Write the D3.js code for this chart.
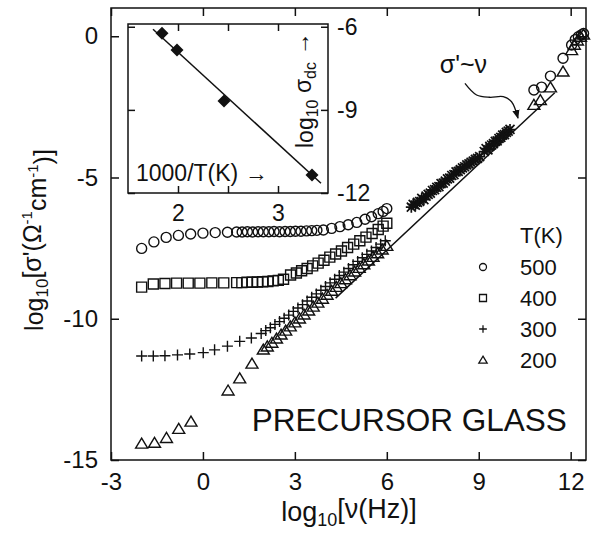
<!DOCTYPE html>
<html lang="en">
<head>
<meta charset="utf-8">
<title>Precursor glass - ac conductivity</title>
<script src="https://d3js.org/d3.v7.min.js"></script>
<style>
  body { margin: 0; background: #fff; }
  svg { display: block; font-family: "Liberation Sans", Arial, sans-serif; }
  .axis path, .axis line { stroke: #111; stroke-width: 1.5; }
  .axis text { font-family: "Liberation Sans", Arial, sans-serif; font-size: 24px; fill: #111; }
  .inset .axis text { font-size: 23px; }
  .mark { fill: none; stroke: #111; stroke-width: 1.4; }
  .hf { stroke-width: 1.7; }
  .lbl { fill: #111; }
</style>
</head>
<body>
<svg id="chart" width="598" height="546"></svg>
<script>
// log10(nu / Hz) and log10(sigma'), one pair per temperature
var f500 = [-2.0,-1.6,-1.2,-0.8,-0.4,0.0,0.4,0.8, 1.10,1.28,1.45,1.62,1.80,1.97,2.15,2.32,2.50,2.68,2.85,3.02,3.20,3.38,3.55,3.72, 3.93,4.20,4.47,4.74,5.02,5.29,5.50,5.72,5.88,6.0, 10.8,11.05,11.34,11.75,12.03,12.15,12.25,12.35,12.42];
var s500 = [-7.51,-7.28,-7.12,-7.05,-7.0,-6.97,-6.95,-6.94, -6.93,-6.93,-6.92,-6.93,-6.92,-6.92,-6.92,-6.91,-6.92,-6.91,-6.91,-6.90,-6.90,-6.89,-6.88,-6.87, -6.86,-6.80,-6.74,-6.67,-6.59,-6.48,-6.39,-6.28,-6.20,-6.10, -1.90,-1.80,-1.41,-0.78,-0.31,-0.12,-0.02,0.05,0.10];

var f400 = [-2.0,-1.62,-1.24,-0.86,-0.48,-0.1,0.29,0.68, 1.10,1.27,1.44,1.61,1.78,1.95,2.12,2.29,2.46,2.63, 2.86,3.05,3.22,3.40,3.58,3.76,3.95,4.14,4.33,4.52,4.72,4.92,5.12,5.32,5.52,5.72,5.88,6.0];
var s400 = [-8.88,-8.77,-8.75,-8.74,-8.74,-8.74,-8.73,-8.73, -8.72,-8.72,-8.71,-8.71,-8.70,-8.69,-8.68,-8.66,-8.64,-8.60, -8.45,-8.38,-8.30,-8.22,-8.13,-8.03,-7.93,-7.82,-7.71,-7.60,-7.48,-7.36,-7.24,-7.11,-6.98,-6.84,-6.72,-6.62];

var f300 = [-2.0,-1.62,-1.24,-0.83,-0.43,0.01,0.38,0.8,1.2,1.58, 1.9,2.05,2.2,2.35,2.5,2.65,2.8,2.95,3.1,3.25,3.4,3.55,3.7,3.85,4.0,4.15,4.3,4.45,4.6,4.75,4.9,5.05,5.2,5.35,5.5,5.65,5.8,5.95];
var s300 = [-11.32,-11.32,-11.31,-11.28,-11.25,-11.2,-11.1,-10.97,-10.8,-10.68, -10.52,-10.42,-10.32,-10.2,-10.1,-9.98,-9.87,-9.74,-9.62,-9.5,-9.37,-9.24,-9.12,-8.99,-8.86,-8.73,-8.6,-8.47,-8.35,-8.22,-8.09,-7.97,-7.84,-7.72,-7.6,-7.48,-7.36,-7.24];

// high frequency band (many overlapping crosses)
var fHF = [6.80,6.86,6.93,7.00,7.07,7.14,7.21,7.28,7.35,7.42,7.49,7.56,7.63,7.70,7.77,7.84,7.91,7.98,8.05,8.12,8.19,8.26,8.33,8.40,8.47,8.54,8.61,8.68,8.75,8.82,8.89,8.96,9.03, 9.18,9.24,9.30,9.36,9.42,9.48,9.54,9.60,9.66,9.72,9.78,9.84,9.90,9.96,10.02];
var sHF = [-6.05,-5.95,-5.98,-5.88,-5.85,-5.74,-5.78,-5.66,-5.60,-5.55,-5.46,-5.43,-5.35,-5.32,-5.22,-5.20,-5.13,-5.05,-5.02,-4.93,-4.90,-4.80,-4.78,-4.72,-4.66,-4.62,-4.55,-4.52,-4.46,-4.42,-4.36,-4.32,-4.26, -4.08,-3.98,-4.02,-3.90,-3.85,-3.80,-3.72,-3.70,-3.62,-3.58,-3.50,-3.48,-3.40,-3.36,-3.30];

var f200 = [-2.0,-1.58,-1.19,-0.79,-0.39,0.82,1.2,1.6,1.97, 2.1,2.25,2.4,2.55,2.7,2.85,3.0,3.15,3.3,3.45,3.6,3.75,3.9,4.05,4.2,4.35,4.5,4.65,4.8,4.95,5.1,5.25,5.4,5.55,5.7,5.85,6.0, 10.8,11.01,11.34,11.75,12.03,12.12,12.22,12.32,12.42];
var s200 = [-14.42,-14.39,-14.22,-13.9,-13.64,-12.54,-12.11,-11.59,-11.09, -10.98,-10.85,-10.7,-10.56,-10.42,-10.27,-10.13,-9.99,-9.85,-9.71,-9.57,-9.43,-9.29,-9.15,-9.01,-8.87,-8.74,-8.6,-8.46,-8.33,-8.2,-8.07,-7.94,-7.81,-7.68,-7.55,-7.42, -2.43,-2.26,-1.81,-1.25,-0.49,-0.3,-0.15,-0.02,0.06];

// sigma' ~ nu guide line (end points)
var lineF = [4.33, 11.48];
var lineS = [-9.27, -2.0];

// curved pointer to the guide line
var arrF = [8.55, 8.93, 9.36, 9.8, 10.07, 10.28];
var arrS = [-1.67, -2.08, -2.16, -2.14, -2.32, -2.9];

// inset: log10 sigma_dc vs 1000/T
var invT = [1.84, 1.99, 2.46, 3.34];
var logDC = [-6.23, -6.84, -8.68, -11.35];
var fitT = [1.75, 3.43];
var fitDC = [-6.09, -11.65];

var xTicks = [-3, 0, 3, 6, 9, 12];
var yTicks = [0, -5, -10, -15];
var ixTicks = [2, 2.5, 3];
var ixLabels = ["2", "", "3"];
var iyTicks = [-6, -9, -12];

var temps = ["500", "400", "300", "200"];

var svg = d3.select("#chart");

var x = d3.scaleLinear().domain([-3, 12.5]).range([111, 586]);
var y = d3.scaleLinear().domain([-15, 1]).range([460, 8]);

function zip(a, b) { return a.map(function(d, i) { return [d, b[i]]; }); }
function plain(d) { return String(d); }   // hyphen minus, like the original

// symbol paths
var sym = {
  circle: "M5,0A5,5 0 1,1 -5,0A5,5 0 1,1 5,0Z",
  square: "M-5,-5H5V5H-5Z",
  plus: "M-5.5,0H5.5M0,-5.5V5.5",
  cross: "M-4.5,-4.5L4.5,4.5M-4.5,4.5L4.5,-4.5",
  tri: "M0,-5.5L6,4.5L-6,4.5Z"
};

// frame
svg.append("rect")
  .attr("x", 111).attr("y", 8).attr("width", 475).attr("height", 452)
  .attr("fill", "none").attr("stroke", "#111").attr("stroke-width", 1.5);

svg.append("g").attr("class", "axis")
  .attr("transform", "translate(0,460)")
  .call(d3.axisBottom(x).tickValues(xTicks).tickSizeInner(-8).tickSizeOuter(0).tickPadding(13).tickFormat(plain))
  .call(function(g) { g.select(".domain").remove(); });
svg.append("g").attr("class", "axis")
  .attr("transform", "translate(0,8)")
  .call(d3.axisTop(x).tickValues(xTicks).tickSizeInner(-8).tickSizeOuter(0).tickFormat(""))
  .call(function(g) { g.select(".domain").remove(); });
svg.append("g").attr("class", "axis")
  .attr("transform", "translate(111,0)")
  .call(d3.axisLeft(y).tickValues(yTicks).tickSizeInner(-8).tickSizeOuter(0).tickPadding(13).tickFormat(plain))
  .call(function(g) { g.select(".domain").remove(); });
svg.append("g").attr("class", "axis")
  .attr("transform", "translate(586,0)")
  .call(d3.axisRight(y).tickValues(yTicks).tickSizeInner(-8).tickSizeOuter(0).tickFormat(""))
  .call(function(g) { g.select(".domain").remove(); });

// axis titles
var xt = svg.append("text").attr("class", "lbl")
  .attr("x", 349).attr("y", 521).attr("text-anchor", "middle").style("font-size", "27px");
xt.append("tspan").text("log");
xt.append("tspan").attr("dy", "0.3em").style("font-size", "18px").text("10");
xt.append("tspan").attr("dy", "-0.3em").text("[\u03bd(Hz)]");

var yt = svg.append("text").attr("class", "lbl")
  .attr("transform", "translate(43,240) rotate(-90)")
  .attr("text-anchor", "middle").style("font-size", "25px");
yt.append("tspan").text("log");
yt.append("tspan").attr("dy", "0.3em").style("font-size", "17px").text("10");
yt.append("tspan").attr("dy", "-0.3em").text("[\u03c3'(\u03a9");
yt.append("tspan").attr("dy", "-0.55em").style("font-size", "15px").text("-1");
yt.append("tspan").attr("dy", "0.55em").text("cm");
yt.append("tspan").attr("dy", "-0.55em").style("font-size", "15px").text("-1");
yt.append("tspan").attr("dy", "0.55em").text(")]");

// guide line sigma' ~ nu
svg.append("path")
  .attr("d", d3.line().x(function(d) { return x(d[0]); }).y(function(d) { return y(d[1]); })(zip(lineF, lineS)))
  .attr("stroke", "#111").attr("stroke-width", 1.5).attr("fill", "none");

// series
function plot(fs, ss, shape, cls) {
  svg.append("g").selectAll("path")
    .data(zip(fs, ss))
    .enter().append("path")
    .attr("class", "mark " + cls)
    .attr("d", sym[shape])
    .attr("transform", function(d) { return "translate(" + x(d[0]) + "," + y(d[1]) + ")"; });
}
plot(f500, s500, "circle", "t500");
plot(f400, s400, "square", "t400");
plot(f200, s200, "tri", "t200");
plot(f300, s300, "plus", "t300");
plot(fHF, sHF, "plus", "hf");
plot(fHF, sHF, "cross", "hf");

// annotation
svg.append("defs").append("marker")
  .attr("id", "head").attr("viewBox", "0 0 10 10").attr("refX", 9).attr("refY", 5)
  .attr("markerWidth", 7).attr("markerHeight", 7).attr("orient", "auto")
  .append("path").attr("d", "M0,1L10,5L0,9Z").attr("fill", "#111");
svg.append("path")
  .attr("d", d3.line().curve(d3.curveCatmullRom)
    .x(function(d) { return x(d[0]); }).y(function(d) { return y(d[1]); })(zip(arrF, arrS)))
  .attr("fill", "none").attr("stroke", "#111").attr("stroke-width", 1.3)
  .attr("marker-end", "url(#head)");
svg.append("text").attr("class", "lbl")
  .attr("x", x(7.73)).attr("y", y(-1.3)).style("font-size", "25px")
  .text("\u03c3'~\u03bd");

svg.append("text").attr("class", "lbl")
  .attr("x", x(1.59)).attr("y", y(-13.97)).style("font-size", "31.5px")
  .text("PRECURSOR GLASS");

// legend
var leg = svg.append("g").attr("transform", "translate(483,267)");
leg.append("text").attr("class", "lbl").attr("x", 37).attr("y", -24).style("font-size", "22px").text("T(K)");
var shapes = ["circle", "square", "plus", "tri"];
temps.forEach(function(t, i) {
  var row = leg.append("g").attr("transform", "translate(0," + (i * 31) + ")");
  row.append("path").attr("class", "mark").attr("d", sym[shapes[i]])
    .attr("transform", "scale(0.7)").style("stroke-width", 1.8);
  row.append("text").attr("class", "lbl").attr("x", 37).attr("y", 8).style("font-size", "22px").text(t);
});

// inset
var ix = d3.scaleLinear().domain([1.5, 3.5]).range([128, 328]);
var iy = d3.scaleLinear().domain([-12, -5.9]).range([193, 24]);
var inset = svg.append("g").attr("class", "inset");
inset.append("rect")
  .attr("x", 128).attr("y", 24).attr("width", 200).attr("height", 169)
  .attr("fill", "#fff").attr("stroke", "#111").attr("stroke-width", 1.5);
inset.append("g").attr("class", "axis").attr("transform", "translate(0,193)")
  .call(d3.axisBottom(ix).tickValues(ixTicks).tickSizeInner(-7).tickSizeOuter(0).tickPadding(12)
    .tickFormat(function(d, i) { return ixLabels[i]; }))
  .call(function(g) { g.select(".domain").remove(); });
inset.append("g").attr("class", "axis").attr("transform", "translate(0,24)")
  .call(d3.axisTop(ix).tickValues(ixTicks).tickSizeInner(-7).tickSizeOuter(0).tickFormat(""))
  .call(function(g) { g.select(".domain").remove(); });
inset.append("g").attr("class", "axis").attr("transform", "translate(328,0)")
  .call(d3.axisRight(iy).tickValues(iyTicks).tickSizeInner(-7).tickSizeOuter(0).tickPadding(9).tickFormat(plain))
  .call(function(g) { g.select(".domain").remove(); });
inset.append("g").attr("class", "axis").attr("transform", "translate(128,0)")
  .call(d3.axisLeft(iy).tickValues(iyTicks).tickSizeInner(-7).tickSizeOuter(0).tickFormat(""))
  .call(function(g) { g.select(".domain").remove(); });

inset.append("path")
  .attr("d", d3.line().x(function(d) { return ix(d[0]); }).y(function(d) { return iy(d[1]); })(zip(fitT, fitDC)))
  .attr("stroke", "#111").attr("stroke-width", 1.5).attr("fill", "none");
inset.selectAll(".dia").data(zip(invT, logDC)).enter().append("path")
  .attr("class", "dia").attr("d", "M0,-6.5L6.5,0L0,6.5L-6.5,0Z").attr("fill", "#111")
  .attr("transform", function(d) { return "translate(" + ix(d[0]) + "," + iy(d[1]) + ")"; });

inset.append("text").attr("class", "lbl").attr("x", 136).attr("y", 181).style("font-size", "23px")
  .text("1000/T(K) \u2192");
var it = inset.append("text").attr("class", "lbl")
  .attr("transform", "translate(313,148) rotate(-90)").style("font-size", "23px");
it.append("tspan").text("log");
it.append("tspan").attr("dy", "0.3em").style("font-size", "16px").text("10");
it.append("tspan").attr("dy", "-0.3em").text(" \u03c3");
it.append("tspan").attr("dy", "0.3em").style("font-size", "16px").text("dc");
it.append("tspan").attr("dy", "-0.3em").text(" \u2192");
</script>
</body>
</html>
